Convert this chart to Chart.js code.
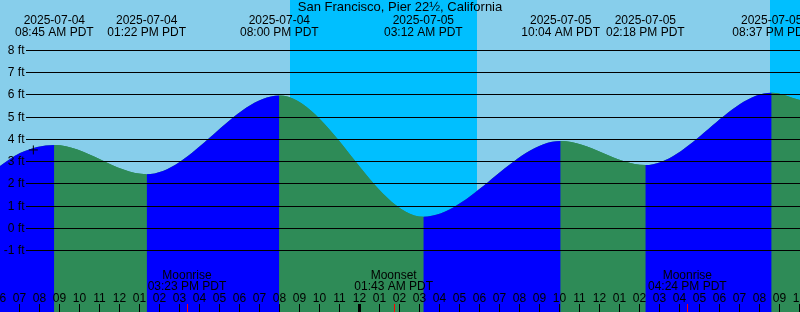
<!DOCTYPE html>
<html>
<head>
<meta charset="utf-8">
<script src="https://cdn.jsdelivr.net/npm/chart.js@4/dist/chart.umd.min.js"></script>
<style>
  html, body { margin: 0; padding: 0; background: #87ceeb; }
  canvas { display: block; }
</style>
</head>
<body>
<canvas id="tideChart" width="800" height="312"></canvas>
<script>
// station and window shown
const stationName = 'San Francisco, Pier 22\u00bd, California'
const windowStart = '2025-07-04 06:02'
const windowEnd = '2025-07-05 22:02'

// high / low tides (ft)
const tideTimes = ['2025-07-04 08:45', '2025-07-04 13:22', '2025-07-04 20:00', '2025-07-05 03:12',
  '2025-07-05 10:04', '2025-07-05 14:18', '2025-07-05 20:37']
const tideLevels = [3.74, 2.43, 5.97, 0.52, 3.92, 2.84, 6.09]

// levels read at the edges of the window
const edgeTimes = ['2025-07-04 06:02', '2025-07-04 07:02', '2025-07-05 22:02']
const edgeLevels = [2.80, 3.38, 5.76]

// current level mark
const markTime = '2025-07-04 07:42'
const markLevel = 3.52

// night (sunset -> sunrise)
const nightStart = ['2025-07-04 20:32', '2025-07-05 20:32']
const nightEnd = ['2025-07-05 05:52', '2025-07-06 05:52']

// moon events
const moonTimes = ['2025-07-04 15:23', '2025-07-05 01:43', '2025-07-05 16:24']
const moonEvents = ['Moonrise', 'Moonset', 'Moonrise']

// y tick labels
const levelTicks = [-1, 0, 1, 2, 3, 4, 5, 6, 7, 8]

const dayColor = '#87ceeb'
const nightColor = '#00bfff'
const floodColor = '#0000ff'
const ebbColor = '#2e8b57'
const fontFamily = "'Liberation Sans', Arial, sans-serif"

// hours from midnight of 2025-07-05
function toHours(s) {
  return (Date.parse(s.replace(' ', 'T') + ':00Z') - Date.parse('2025-07-05T00:00:00Z')) / 3600000
}

function clockLabel(s) {
  let hm = s.split(' ')[1].split(':')
  let h = Number(hm[0])
  let ampm = h < 12 ? 'AM' : 'PM'
  let h12 = h % 12 || 12
  return String(h12).padStart(2, '0') + ':' + hm[1] + ' ' + ampm + ' PDT'
}

function getCurve() {
  let pts = []
  tideTimes.forEach((t, i) => pts.push({x: toHours(t), y: tideLevels[i]}))
  edgeTimes.forEach((t, i) => pts.push({x: toHours(t), y: edgeLevels[i]}))
  pts.sort((a, b) => a.x - b.x)
  return pts
}

const tidePlugin = {
  id: 'tidePlugin',
  beforeDraw(chart) {
    const {ctx, chartArea: a, scales: {x}} = chart
    ctx.save()
    ctx.fillStyle = dayColor
    ctx.fillRect(a.left, a.top, a.right - a.left, a.bottom - a.top)
    ctx.fillStyle = nightColor
    nightStart.forEach((s, i) => {
      let x0 = Math.round(x.getPixelForValue(toHours(s)))
      let x1 = Math.round(x.getPixelForValue(toHours(nightEnd[i])))
      ctx.fillRect(x0, a.top, x1 - x0, a.bottom - a.top)
    })
    ctx.restore()
  },
  afterDatasetsDraw(chart) {
    const {ctx, chartArea: a, scales: {x, y}} = chart
    ctx.save()
    // level lines and labels
    ctx.strokeStyle = '#000'
    ctx.lineWidth = 1
    ctx.fillStyle = '#000'
    ctx.font = '12px ' + fontFamily
    ctx.textAlign = 'right'
    ctx.textBaseline = 'middle'
    levelTicks.forEach(v => {
      let py = Math.floor(y.getPixelForValue(v)) + 0.5
      ctx.beginPath()
      ctx.moveTo(a.left + 26, py)
      ctx.lineTo(a.right, py)
      ctx.stroke()
      ctx.fillText(v + ' ft', a.left + 24.5, py)
    })

    // title
    ctx.textAlign = 'center'
    ctx.textBaseline = 'alphabetic'
    ctx.font = '13px ' + fontFamily
    ctx.fillText(stationName, (a.left + a.right) / 2, a.top + 11)

    // high / low labels
    ctx.font = '12px ' + fontFamily
    tideTimes.forEach(t => {
      let px = x.getPixelForValue(toHours(t))
      ctx.fillText(t.split(' ')[0], px, a.top + 23.5)
      ctx.fillText(clockLabel(t), px, a.top + 35.5)
    })

    // hour ticks along the bottom
    let h0 = Math.floor(x.min), h1 = Math.ceil(x.max)
    for (let h = h0; h <= h1; h++) {
      let px = Math.round(x.getPixelForValue(h))
      let hod = ((h % 24) + 24) % 24
      ctx.fillText(String(hod % 12 || 12).padStart(2, '0'), px + 0.5, a.bottom - 10.5)
      ctx.beginPath()
      ctx.lineWidth = hod === 0 ? 3 : 1
      ctx.moveTo(px + 0.5, a.bottom - 8)
      ctx.lineTo(px + 0.5, a.bottom)
      ctx.stroke()
    }

    // moon events
    ctx.lineWidth = 1
    moonTimes.forEach((t, i) => {
      let px = x.getPixelForValue(toHours(t))
      ctx.fillStyle = '#000'
      ctx.fillText(moonEvents[i], px, a.bottom - 33.5)
      ctx.fillText(clockLabel(t), px, a.bottom - 22.5)
      ctx.strokeStyle = '#ff0000'
      ctx.beginPath()
      ctx.moveTo(Math.round(px) + 0.5, a.bottom - 8)
      ctx.lineTo(Math.round(px) + 0.5, a.bottom)
      ctx.stroke()
    })
    ctx.restore()
  }
}

const curve = getCurve()

const tideData = {
  datasets: [{
    // base fill so no seams show between the coloured parts
    type: 'line',
    data: curve,
    fill: 'start',
    backgroundColor: ebbColor,
    borderWidth: 0,
    pointRadius: 0,
    cubicInterpolationMode: 'monotone',
    order: 3
  }, {
    type: 'line',
    data: curve,
    fill: 'start',
    backgroundColor: floodColor,
    borderWidth: 0,
    pointRadius: 0,
    cubicInterpolationMode: 'monotone',
    segment: {
      backgroundColor: c => c.p1.parsed.y >= c.p0.parsed.y ? floodColor : ebbColor
    },
    order: 2
  }, {
    type: 'scatter',
    data: [{x: toHours(markTime), y: markLevel}],
    pointStyle: 'cross',
    pointRadius: 4.5,
    borderColor: '#000',
    borderWidth: 1,
    backgroundColor: '#000',
    order: 1
  }]
}

const tideChart = new Chart(document.getElementById('tideChart'), {
  type: 'line',
  data: tideData,
  options: {
    responsive: false,
    animation: false,
    devicePixelRatio: 1,
    layout: {padding: 0, autoPadding: false},
    scales: {
      x: {type: 'linear', display: false, min: toHours(windowStart), max: toHours(windowEnd)},
      y: {type: 'linear', display: false, min: -3.76, max: 10.256}
    },
    plugins: {
      legend: {display: false},
      tooltip: {enabled: false}
    }
  },
  plugins: [tidePlugin]
})
</script>
</body>
</html>
